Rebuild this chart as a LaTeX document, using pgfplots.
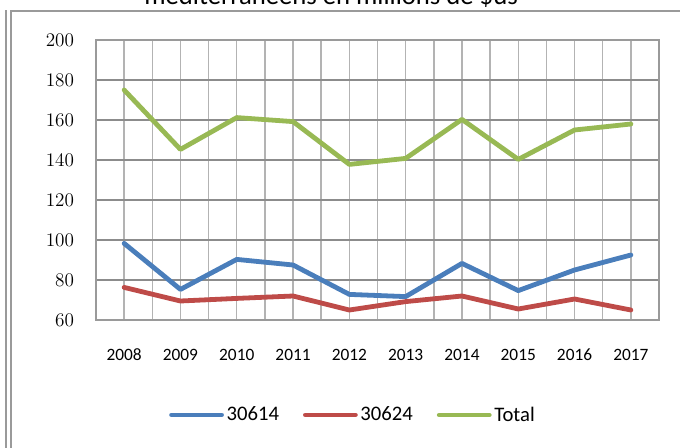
\documentclass[border=0pt]{standalone}
\usepackage{pgfplots}
\pgfplotsset{compat=1.18}
\usepackage{fontspec}
\setmainfont{Carlito}
\definecolor{sblue}{HTML}{4A7EBB}
\definecolor{sred}{HTML}{BE4B48}
\definecolor{sgreen}{HTML}{98B954}
\definecolor{hgrid}{HTML}{8C8C8C}
\definecolor{vgrid}{HTML}{B3B3B3}
\definecolor{framec}{HTML}{9A9A9A}
\begin{document}
\begin{tikzpicture}
\path[use as bounding box] (0,0) rectangle (510pt,335.25pt);
\clip (0,0) rectangle (510pt,335.25pt);
\draw[framec, line width=1.5pt] (4.5pt,-2pt) -- (4.5pt,327.75pt);
\draw[framec, line width=1.5pt] (8.25pt,-2pt) -- (8.25pt,327pt) -- (512pt,327pt);
\node[anchor=base east, inner sep=0pt, font=\fontsize{20}{24}\selectfont] at (388.5pt,331.5pt) {méditerranéens en millions de \$us};
\begin{axis}[
  at={(72pt,95.25pt)}, anchor=south west,
  scale only axis, width=422.25pt, height=210pt,
  xmin=-0.5, xmax=9.5, ymin=60, ymax=200,
  ytick={60,80,...,200},
  xtick={0,...,9},
  xticklabels={2008,2009,2010,2011,2012,2013,2014,2015,2016,2017},
  minor xtick={-0.5,0,...,9.5},
  ymajorgrids, xminorgrids,
  major grid style={hgrid, line width=1.1pt},
  minor grid style={vgrid, line width=1.1pt},
  major tick length=0pt, minor tick length=0pt,
  axis line style={framec, line width=1.1pt},
  xticklabel style={font=\fontsize{13}{15}\selectfont, anchor=base, yshift=-30.5pt},
  yticklabel style={font=\fontsize{13.8}{16}\selectfont, anchor=east, xshift=-13pt},
  legend style={at={(axis description cs:0.457,-0.339)}, anchor=center, draw=none, fill=none,
    legend columns=3, font=\fontsize{15.5}{18}\selectfont,
    /tikz/every even column/.append style={column sep=16pt}},
  legend image code/.code={\draw[#1] (0pt,0pt) -- (37.5pt,0pt);},
  every axis plot/.append style={line width=3.6pt, line join=round, line cap=round},
]
\addplot[sblue] coordinates {(0,98.3) (1,75.3) (2,90.3) (3,87.5) (4,72.8) (5,71.7) (6,88.3) (7,74.7) (8,85) (9,92.5)};
\addlegendentry{30614}
\addplot[sred] coordinates {(0,76.3) (1,69.5) (2,70.8) (3,72) (4,65) (5,69.2) (6,72) (7,65.5) (8,70.5) (9,65)};
\addlegendentry{30624}
\addplot[sgreen] coordinates {(0,175) (1,145.3) (2,161.2) (3,159.2) (4,137.8) (5,140.8) (6,160.3) (7,140.3) (8,155) (9,158)};
\addlegendentry{Total}
\end{axis}
\end{tikzpicture}
\end{document}
